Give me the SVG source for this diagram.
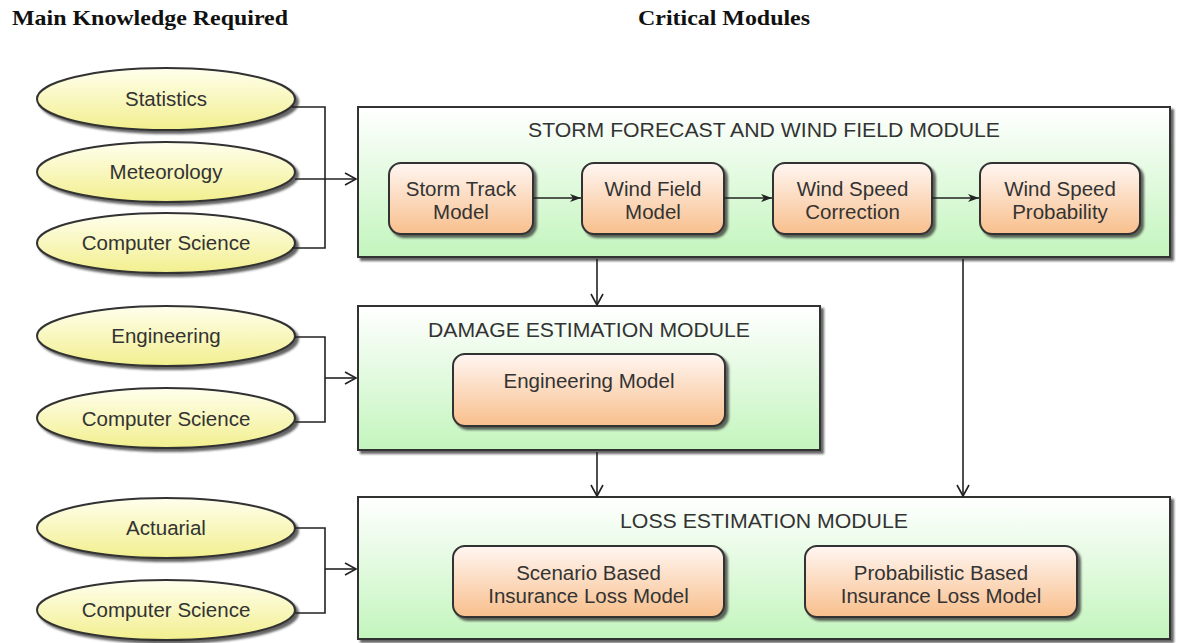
<svg xmlns="http://www.w3.org/2000/svg" width="1177" height="643" viewBox="0 0 1177 643">
<defs>
<linearGradient id="gMod" x1="0" y1="0" x2="0" y2="1">
<stop offset="0" stop-color="#ffffff"/>
<stop offset="1" stop-color="#c3f5bd"/>
</linearGradient>
<linearGradient id="gBox" x1="0" y1="0" x2="0" y2="1">
<stop offset="0" stop-color="#fff6f2"/>
<stop offset="1" stop-color="#f8bf8c"/>
</linearGradient>
<linearGradient id="gEl" x1="0" y1="0" x2="0" y2="1">
<stop offset="0" stop-color="#ffffee"/>
<stop offset="1" stop-color="#f2ef8e"/>
</linearGradient>
<filter id="sh" x="-10%" y="-10%" width="130%" height="140%">
<feDropShadow dx="3" dy="3" stdDeviation="1.2" flood-color="#333" flood-opacity="0.75"/>
</filter>
<marker id="open" markerWidth="14" markerHeight="14" refX="12" refY="7" orient="auto" markerUnits="userSpaceOnUse">
<path d="M1,1 L12,7 L1,13" fill="none" stroke="#222" stroke-width="1.6"/>
</marker>
<marker id="fill" markerWidth="12" markerHeight="10" refX="11" refY="5" orient="auto" markerUnits="userSpaceOnUse">
<path d="M0,1 L11,5 L0,9 L3,5 Z" fill="#222"/>
</marker>
<style>
.head{font-family:"Liberation Serif",serif;font-weight:bold;font-size:22px;fill:#111}
.t{font-family:"Liberation Sans",Arial,sans-serif;font-size:20.5px;fill:#333;text-anchor:middle}
.mod{fill:url(#gMod);stroke:#333;stroke-width:2;filter:url(#sh)}
.box{fill:url(#gBox);stroke:#333;stroke-width:2;filter:url(#sh)}
.el{fill:url(#gEl);stroke:#333;stroke-width:2;filter:url(#sh)}
.ln{fill:none;stroke:#222;stroke-width:1.6}
</style>
</defs>
<rect width="1177" height="643" fill="#ffffff"/>
<text class="head" x="12" y="25" textLength="276" lengthAdjust="spacingAndGlyphs">Main Knowledge Required</text>
<text class="head" x="638" y="25" textLength="172" lengthAdjust="spacingAndGlyphs">Critical Modules</text>

<g id="knowledge-statistics"><ellipse class="el" cx="166" cy="99" rx="129" ry="31"/><text class="t" x="166" y="106">Statistics</text></g>
<g id="knowledge-meteorology"><ellipse class="el" cx="166" cy="172" rx="129" ry="30"/><text class="t" x="166" y="179">Meteorology</text></g>
<g id="knowledge-cs1"><ellipse class="el" cx="166" cy="243" rx="129" ry="30"/><text class="t" x="166" y="250">Computer Science</text></g>
<g id="knowledge-engineering"><ellipse class="el" cx="166" cy="336" rx="129" ry="30"/><text class="t" x="166" y="343">Engineering</text></g>
<g id="knowledge-cs2"><ellipse class="el" cx="166" cy="418" rx="129" ry="30"/><text class="t" x="166" y="426">Computer Science</text></g>
<g id="knowledge-actuarial"><ellipse class="el" cx="166" cy="528" rx="129" ry="30"/><text class="t" x="166" y="535">Actuarial</text></g>
<g id="knowledge-cs3"><ellipse class="el" cx="166" cy="610" rx="129" ry="30"/><text class="t" x="166" y="617">Computer Science</text></g>

<g id="module-storm">
<rect class="mod" x="358" y="107" width="812" height="150"/>
<text class="t" x="764" y="137" textLength="472" lengthAdjust="spacingAndGlyphs">STORM FORECAST AND WIND FIELD MODULE</text>
</g>
<g id="storm-track"><rect class="box" x="389" y="163" width="144" height="71" rx="12"/><text class="t" x="461" y="196">Storm Track</text><text class="t" x="461" y="219">Model</text></g>
<g id="wind-field"><rect class="box" x="582" y="163" width="142" height="71" rx="12"/><text class="t" x="653" y="196">Wind Field</text><text class="t" x="653" y="219">Model</text></g>
<g id="wind-speed-correction"><rect class="box" x="773" y="163" width="159" height="71" rx="12"/><text class="t" x="852.5" y="196">Wind Speed</text><text class="t" x="852.5" y="219">Correction</text></g>
<g id="wind-speed-probability"><rect class="box" x="980" y="163" width="160" height="71" rx="12"/><text class="t" x="1060" y="196">Wind Speed</text><text class="t" x="1060" y="219">Probability</text></g>

<g id="module-damage">
<rect class="mod" x="358" y="306" width="462" height="144"/>
<text class="t" x="589" y="337" textLength="322" lengthAdjust="spacingAndGlyphs">DAMAGE ESTIMATION MODULE</text>
</g>
<g id="engineering-model"><rect class="box" x="453" y="354" width="272" height="72" rx="12"/><text class="t" x="589" y="388">Engineering Model</text></g>

<g id="module-loss">
<rect class="mod" x="358" y="497" width="812" height="142"/>
<text class="t" x="764" y="528" textLength="288" lengthAdjust="spacingAndGlyphs">LOSS ESTIMATION MODULE</text>
</g>
<g id="scenario-model"><rect class="box" x="453" y="546" width="271" height="71" rx="12"/><text class="t" x="588.5" y="580">Scenario Based</text><text class="t" x="588.5" y="603">Insurance Loss Model</text></g>
<g id="probabilistic-model"><rect class="box" x="805" y="546" width="272" height="71" rx="12"/><text class="t" x="941" y="580">Probabilistic Based</text><text class="t" x="941" y="603">Insurance Loss Model</text></g>

<g id="connectors">
<path class="ln" d="M292,107 H325 V248 H292"/>
<path class="ln" d="M295,179 H356" marker-end="url(#open)"/>
<path class="ln" d="M295,337 H325 V422 H295"/>
<path class="ln" d="M325,378 H356" marker-end="url(#open)"/>
<path class="ln" d="M295,528 H325 V613 H295"/>
<path class="ln" d="M325,569 H356" marker-end="url(#open)"/>
<path class="ln" d="M533,198 H581" marker-end="url(#fill)"/>
<path class="ln" d="M724,198 H772" marker-end="url(#fill)"/>
<path class="ln" d="M932,198 H979" marker-end="url(#fill)"/>
<path class="ln" d="M597,259 V305" marker-end="url(#open)"/>
<path class="ln" d="M963,259 V496" marker-end="url(#open)"/>
<path class="ln" d="M597,452 V496" marker-end="url(#open)"/>
</g>
</svg>
